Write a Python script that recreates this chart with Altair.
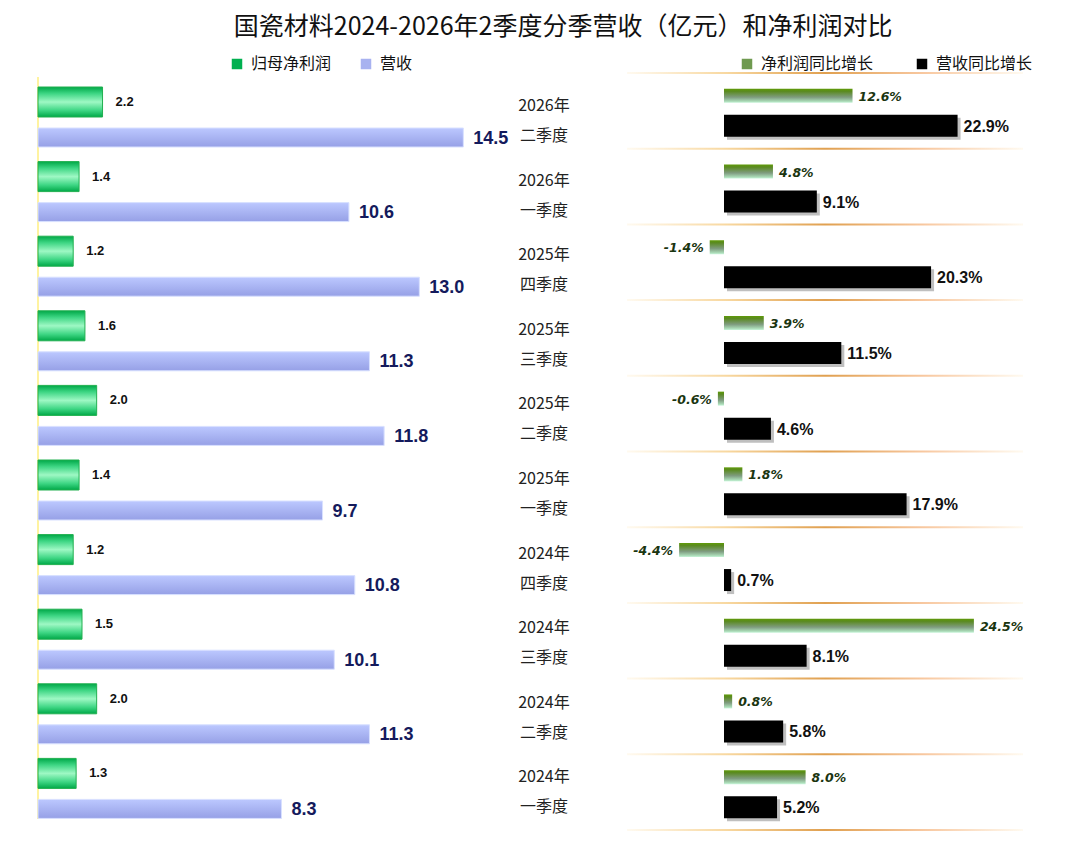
import altair as alt
import pandas as pd

# ---------------- data ----------------
quarters = ["2026年二季度", "2026年一季度", "2025年四季度", "2025年三季度", "2025年二季度",
            "2025年一季度", "2024年四季度", "2024年三季度", "2024年二季度", "2024年一季度"]
years = ["2026年", "2026年", "2025年", "2025年", "2025年", "2025年", "2024年", "2024年", "2024年", "2024年"]
seasons = ["二季度", "一季度", "四季度", "三季度", "二季度", "一季度", "四季度", "三季度", "二季度", "一季度"]
net_profit = [2.2, 1.4, 1.2, 1.6, 2.0, 1.4, 1.2, 1.5, 2.0, 1.3]
revenue = [14.5, 10.6, 13.0, 11.3, 11.8, 9.7, 10.8, 10.1, 11.3, 8.3]
net_yoy = [12.6, 4.8, -1.4, 3.9, -0.6, 1.8, -4.4, 24.5, 0.8, 8.0]
rev_yoy = [22.9, 9.1, 20.3, 11.5, 4.6, 17.9, 0.7, 8.1, 5.8, 5.2]

left_series = ["归母净利润", "营收"]
right_series = ["净利润同比增长", "营收同比增长"]
title_text = "国瓷材料2024-2026年2季度分季营收（亿元）和净利润对比"

df = pd.DataFrame({
    "key": quarters, "year": years, "season": seasons,
    "net": net_profit, "rev": revenue, "net_yoy": net_yoy, "rev_yoy": rev_yoy,
})
df["net_lbl"] = df["net"].map(lambda v: f"{v:.1f}")
df["rev_lbl"] = df["rev"].map(lambda v: f"{v:.1f}")
df["net_yoy_lbl"] = df["net_yoy"].map(lambda v: f"{v:.1f}%")
df["rev_yoy_lbl"] = df["rev_yoy"].map(lambda v: f"{v:.1f}%")

# ---------------- styles ----------------
CJK = "Noto Sans CJK SC"
NUM = "Liberation Sans Narrow, Liberation Sans, Arial, sans-serif"

LH, RH = 746, 757
LW, MW, RW = 440, 144, 408
band_l = LH / 10
band_r = RH / 10


def vgrad(stops):
    return alt.LinearGradient(
        gradient="linear", x1=0, x2=0, y1=0, y2=1,
        stops=[alt.GradientStop(offset=o, color=c) for o, c in stops])


def hgrad(stops):
    return alt.LinearGradient(
        gradient="linear", x1=0, x2=1, y1=0, y2=0,
        stops=[alt.GradientStop(offset=o, color=c) for o, c in stops])


green_grad = vgrad([(0, "#00a848"), (0.22, "#3ed684"), (0.5, "#9ef8c4"),
                    (0.78, "#3ed684"), (1, "#00a848")])
lav_grad = vgrad([(0, "#bcc8ff"), (1, "#96a0e6")])
olive_grad = vgrad([(0, "#5f9a08"), (0.18, "#5a8a20"), (0.6, "#7f9c80"),
                    (0.88, "#a8d8b4"), (1, "#c8f5da")])
sep_grad = hgrad([(0, "#fffaf0"), (0.25, "#f8d8a0"), (0.5, "#e0a050"),
                  (0.75, "#f8c8a0"), (1, "#fffaf0")])

# ---------------- left panel ----------------
yl = alt.Y("key:N", sort=quarters, axis=None,
           scale=alt.Scale(paddingInner=0, paddingOuter=0))
xl_dom = alt.Scale(domain=[0, 15])
base_l = alt.Chart(df)

net_off = 29 - band_l / 2
rev_off = 64.5 - band_l / 2

l_axis = base_l.mark_rule(color="#fff3a0", strokeWidth=1.5).encode(
    x=alt.value(0), y=alt.value(4), y2=alt.value(LH))
l_net = base_l.mark_bar(height=30, yOffset=net_off, color=green_grad,
                        stroke="#22b050", strokeWidth=1).encode(
    y=yl, x=alt.X("net:Q", scale=xl_dom, axis=None))
l_net_t = base_l.mark_text(align="left", dx=13, yOffset=net_off, font=NUM,
                           fontWeight="bold", fontSize=13, color="#111").encode(
    y=yl, x=alt.X("net:Q", scale=xl_dom, axis=None), text="net_lbl:N")
l_rev = base_l.mark_bar(height=19, yOffset=rev_off, color=lav_grad,
                        stroke="#d8e0ff", strokeWidth=1).encode(
    y=yl, x=alt.X("rev:Q", scale=xl_dom, axis=None))
l_rev_t = base_l.mark_text(align="left", dx=10, yOffset=rev_off + 1, font=NUM,
                           fontWeight="bold", fontSize=18, color="#141a5c").encode(
    y=yl, x=alt.X("rev:Q", scale=xl_dom, axis=None), text="rev_lbl:N")
l_leg = alt.Chart(pd.DataFrame({"s": left_series})).mark_square(opacity=0).encode(
    x=alt.value(0), y=alt.value(0),
    color=alt.Color("s:N", scale=alt.Scale(domain=left_series, range=["#00b050", "#a8b2f0"]),
                    legend=alt.Legend(orient="none", legendX=191, legendY=-17,
                                      direction="horizontal", title=None,
                                      symbolType="square", symbolOpacity=1, symbolSize=110,
                                      labelFontSize=16, labelFont=CJK, labelColor="#111",
                                      columnPadding=26, labelOffset=6)))

left = alt.layer(l_axis, l_net, l_rev, l_net_t, l_rev_t, l_leg).properties(width=LW, height=LH)

# ---------------- middle labels ----------------
mid_y = base_l.mark_text(font=CJK, fontSize=16, color="#222", yOffset=33 - band_l / 2).encode(
    y=yl, x=alt.value(66), text="year:N")
mid_s = base_l.mark_text(font=CJK, fontSize=16, color="#222", yOffset=63 - band_l / 2).encode(
    y=yl, x=alt.value(66), text="season:N")
middle = alt.layer(mid_y, mid_s).properties(width=MW, height=LH)

# ---------------- right panel ----------------
yr = alt.Y("key:N", sort=quarters, axis=None,
           scale=alt.Scale(paddingInner=0, paddingOuter=0))
xr_dom = alt.Scale(domain=[-10, 30])
base_r = alt.Chart(df)
rn_off = -15
rr_off = 15

r_sep = base_r.mark_bar(height=2, yOffset=-band_r / 2, color=sep_grad).encode(
    y=yr, x=alt.value(5), x2=alt.value(401))
r_sep_end = base_r.transform_filter(alt.datum.key == quarters[-1]).mark_bar(
    height=2, yOffset=band_r / 2, color=sep_grad).encode(
    y=yr, x=alt.value(5), x2=alt.value(401))
r_net = base_r.mark_bar(height=14, yOffset=rn_off, color=olive_grad).encode(
    y=yr, x=alt.X("net_yoy:Q", scale=xr_dom, axis=None))
r_net_tp = base_r.transform_filter("datum.net_yoy >= 0").mark_text(
    align="left", dx=6, yOffset=rn_off + 1, font="DejaVu Sans", fontStyle="italic",
    fontWeight="bold", fontSize=12.5, color="#1a3510").encode(
    y=yr, x=alt.X("net_yoy:Q", scale=xr_dom, axis=None), text="net_yoy_lbl:N")
r_net_tn = base_r.transform_filter("datum.net_yoy < 0").mark_text(
    align="right", dx=-6, yOffset=rn_off + 1, font="DejaVu Sans", fontStyle="italic",
    fontWeight="bold", fontSize=12.5, color="#1a3510").encode(
    y=yr, x=alt.X("net_yoy:Q", scale=xr_dom, axis=None), text="net_yoy_lbl:N")
r_shadow = base_r.mark_bar(height=22, yOffset=rr_off + 3, xOffset=3, color="#8a8a8a",
                           opacity=0.55).encode(
    y=yr, x=alt.X("rev_yoy:Q", scale=xr_dom, axis=None))
r_rev = base_r.mark_bar(height=22, yOffset=rr_off, color="#000000").encode(
    y=yr, x=alt.X("rev_yoy:Q", scale=xr_dom, axis=None))
r_rev_t = base_r.mark_text(align="left", dx=6, yOffset=rr_off + 1, font=NUM,
                           fontWeight="bold", fontSize=16, color="#111").encode(
    y=yr, x=alt.X("rev_yoy:Q", scale=xr_dom, axis=None), text="rev_yoy_lbl:N")
r_leg = alt.Chart(pd.DataFrame({"s": right_series})).mark_square(opacity=0).encode(
    x=alt.value(0), y=alt.value(0),
    color=alt.Color("s:N", scale=alt.Scale(domain=right_series, range=["#6f9a50", "#000000"]),
                    legend=alt.Legend(orient="none", legendX=117, legendY=-17,
                                      direction="horizontal", title=None,
                                      symbolType="square", symbolOpacity=1, symbolSize=110,
                                      labelFontSize=16, labelFont=CJK, labelColor="#111",
                                      columnPadding=40, labelOffset=6)))

right = alt.layer(r_sep, r_sep_end, r_net, r_shadow, r_rev, r_net_tp, r_net_tn, r_rev_t,
                  r_leg).properties(width=RW, height=RH)

chart = alt.hconcat(left, middle, right, spacing=0, bounds="flush").resolve_scale(
    color="independent", y="independent", x="independent"
).properties(
    title=alt.TitleParams(text=title_text, fontSize=25, font=CJK, fontWeight="normal",
                          color="#111", anchor="middle", offset=16, dx=29),
    padding={"left": 27, "top": 7, "right": 5, "bottom": 5},
).configure_view(strokeWidth=0)

chart.save("out.html", embed_options={"renderer": "svg", "actions": False})
